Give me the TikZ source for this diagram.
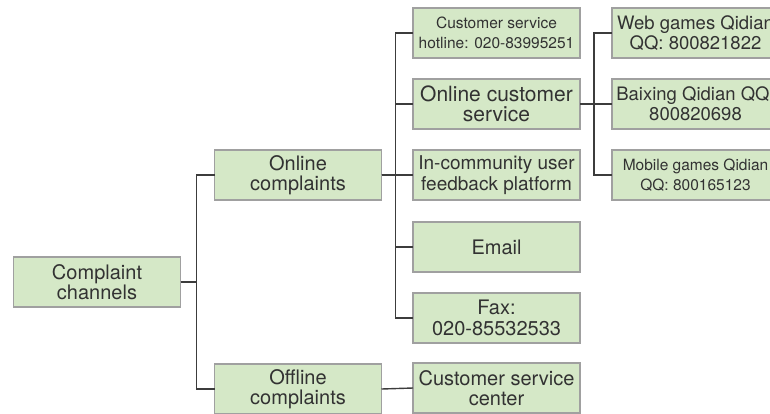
\documentclass[tikz,border=0pt]{standalone}
\usepackage{fontspec}
\setmainfont{TeX Gyre Heros}
\definecolor{boxfill}{RGB}{213,232,199}
\definecolor{boxline}{RGB}{160,160,160}
\definecolor{wire}{RGB}{60,60,60}
\definecolor{txt}{RGB}{50,50,50}
\begin{document}
\begin{tikzpicture}[x=1pt,y=-1pt,
  cbox/.style={draw=boxline,line width=1.2pt,fill=boxfill,minimum width=167pt,minimum height=50pt,
    inner sep=0pt,outer sep=0pt,align=center,text=txt,font=\fontsize{20}{20.5}\selectfont},
  smalltext/.style={font=\fontsize{15.5}{19.5}\selectfont},
  midtext/.style={font=\fontsize{18.5}{20}\selectfont},
  tighttext/.style={font=\fontsize{19}{20.5}\selectfont},
  widetext/.style={font=\fontsize{21}{20.5}\selectfont},
  wireline/.style={draw=wire,line width=1.4pt}]
\useasboundingbox (0,0) rectangle (770,413);
\clip (0,0) rectangle (770,413);
\node[cbox] (root) at (97,282) {Complaint\\channels};
\node[cbox] (on) at (298,175) {Online\\complaints};
\node[cbox] (off) at (298,389) {Offline\\complaints};
\node[cbox,smalltext] (hot) at (496.5,33) {Customer service\\hotline: 020-83995251};
\node[cbox,widetext] (ocs) at (496.5,104) {Online customer\\service};
\node[cbox,tighttext] (comm) at (496.5,175) {In-community user\\feedback platform};
\node[cbox] (email) at (496.5,247) {Email};
\node[cbox] (fax) at (496.5,318) {Fax:\\020-85532533};
\node[cbox] (csc) at (496.5,388) {Customer service\\center};
\node[cbox,midtext] (web) at (695.5,33) {Web games Qidian\\QQ: 800821822};
\node[cbox,midtext] (bx) at (695.5,104) {Baixing Qidian QQ:\\800820698};
\node[cbox,smalltext] (mob) at (695.5,175) {Mobile games Qidian\\QQ: 800165123};
\foreach \t in {on,off}
  \draw[wireline] (root.east) -- ++(16,0) |- (\t.west);
\foreach \t in {hot,ocs,comm,email,fax}
  \draw[wireline] (on.east) -- ++(14,0) |- (\t.west);
\draw[wireline] (off.east) -- (csc.west);
\foreach \t in {web,bx,mob}
  \draw[wireline] (ocs.east) -- ++(14,0) |- (\t.west);
\end{tikzpicture}
\end{document}
